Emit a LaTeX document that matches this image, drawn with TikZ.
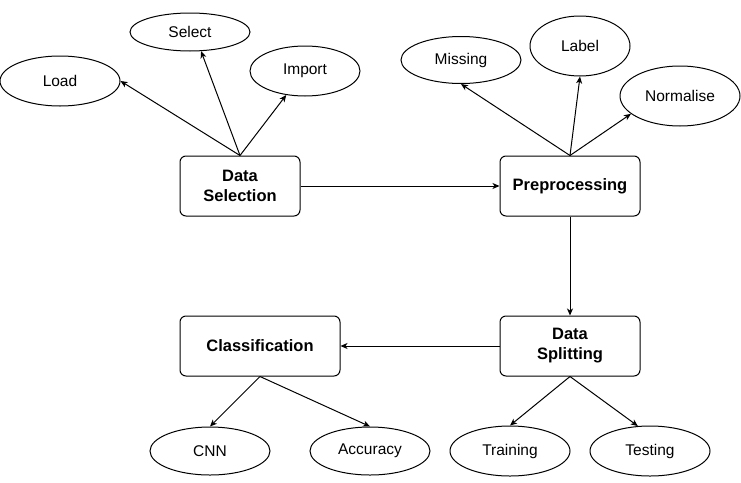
\documentclass[tikz,border=0pt]{standalone}
\usepackage{fontspec}
\setmainfont{Liberation Sans}
\usetikzlibrary{arrows.meta,shapes.geometric}

\begin{document}
\begin{tikzpicture}[x=1pt, y=-1pt, line width=1pt,
    stagebox/.style={draw, rounded corners=6pt, minimum height=60pt, inner sep=0pt, align=center, font=\fontsize{16.5}{20}\selectfont\bfseries},
    leaf/.style={draw, ellipse, inner sep=0pt, minimum width=120pt, font=\fontsize{15.5}{18}\selectfont},
    arr/.style={-{Stealth[length=7pt, width=6pt, inset=2pt]}}]

                    \useasboundingbox (0,0) rectangle (741,482);

                    \node[stagebox, minimum width=120pt] (selection) at (240,186) {Data\\Selection};
                    \node[stagebox, minimum width=140pt] (preprocessing) at (570,186) {Preprocessing};
                    \node[stagebox, minimum width=140pt] (splitting) at (570,346) {Data\\Splitting};
                    \node[stagebox, minimum width=160pt] (classification) at (260,346) {Classification};

                    \node[leaf, minimum height=50pt] (load) at (60,81) {Load};
                    \node[leaf, minimum height=38pt] (select) at (190,32) {Select};
                    \node[leaf, minimum width=110pt, minimum height=50pt] (import) at (305,71) {Import};

                    \node[leaf, minimum height=47pt] (missing) at (461,60) {Missing};
                    \node[leaf, minimum width=100pt, minimum height=60pt] (lbl) at (580,46) {Label};
                    \node[leaf, minimum height=60pt] (normalise) at (680,96) {Normalise};

                    \node[leaf, minimum height=48pt] (cnn) at (210,451) {CNN};
                    \node[leaf, minimum height=48pt] (accuracy) at (370,451) {Accuracy};
                    \node[leaf, minimum height=50pt] (training) at (510,451) {Training};
                    \node[leaf, minimum height=50pt] (testing) at (650,451) {Testing};


                    \draw[arr] (selection.north) -- (load.east);
                    \draw[arr] (selection.north) -- (select.-60);
                    \draw[arr] (selection.north) -- (import.-128);
                    \draw[arr] (selection.east) -- (preprocessing.west);

                    \draw[arr] (preprocessing.north) -- (missing.south);
                    \draw[arr] (preprocessing.north) -- (lbl.south);
                    \draw[arr] (preprocessing.north) -- (normalise.-160);
                    \draw[arr] (preprocessing.south) -- (splitting.north);

                    \draw[arr] (splitting.west) -- (classification.east);
                    \draw[arr] (splitting.south) -- (training.north);
                    \draw[arr] (splitting.south) -- (testing.116);

                    \draw[arr] (classification.south) -- (cnn.north);
                    \draw[arr] (classification.south) -- (accuracy.north);
                \end{tikzpicture}
\end{document}
